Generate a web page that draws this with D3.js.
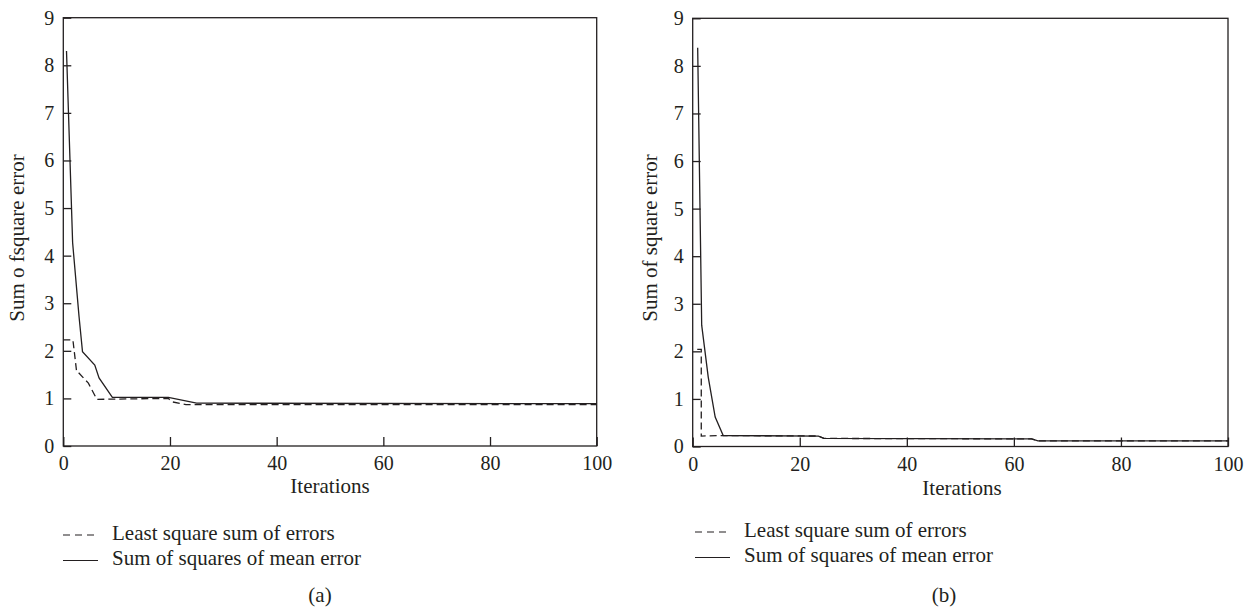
<!DOCTYPE html>
<html><head><meta charset="utf-8">
<script src="https://cdn.jsdelivr.net/npm/d3@7"></script>
<style>
body{margin:0;background:#fff}
text{font-family:"Liberation Serif","Times New Roman",serif;fill:#231f20}
</style>
</head><body>
<svg id="c" width="1257" height="611"></svg>
<script>
// ---- data ----
const xTickValues=[0,20,40,60,80,100];
const yTickValues=[0,1,2,3,4,5,6,7,8,9];
const seriesNames=["Least square sum of errors","Sum of squares of mean error"];
const panelLabels=["(a)","(b)"];
const yTitles=["Sum o fsquare error","Sum of square error"];
const xTitle="Iterations";

// panel (a)
const iterDashedA=[0,1.8,2.5,2.8,4.7,6.3,19.7,20.3,23,100];
const dashedA=[2.23,2.23,1.56,1.55,1.32,0.98,1.0,0.93,0.87,0.87];
const iterSolidA=[0.6,1.75,2.95,3.6,5.9,6.7,9.2,19.7,25,100];
const solidA=[8.3,4.27,2.72,1.98,1.70,1.43,1.02,1.02,0.90,0.89];

// panel (b)
const iterDashedB=[0.85,1.6,1.6,5.7,23.5,24.5,63.3,64.5,100];
const dashedB=[2.04,2.04,0.22,0.23,0.22,0.17,0.16,0.12,0.12];
const iterSolidB=[0.93,1.68,2.9,4.2,5.7,23.5,24.5,63.3,64.5,100];
const solidB=[8.38,2.55,1.46,0.62,0.23,0.22,0.17,0.16,0.12,0.12];

// ---- drawing ----
const svg=d3.select("#c");
const ink="#231f20";
const panels=[
  {x0:63.3,x1:596.7,y0:446,y1:17.7,ytx:19,itx:330,ity:488,legX:63,legY:535,labX:320,
   dashed:[iterDashedA,dashedA],solid:[iterSolidA,solidA],yTitle:yTitles[0],lab:panelLabels[0]},
  {x0:692.7,x1:1228,y0:446.5,y1:18.3,ytx:652,itx:962,ity:490,legX:695,legY:532,labX:944,
   dashed:[iterDashedB,dashedB],solid:[iterSolidB,solidB],yTitle:yTitles[1],lab:panelLabels[1]}
];

panels.forEach(p=>{
  const x=d3.scaleLinear().domain([0,100]).range([p.x0,p.x1]);
  const y=d3.scaleLinear().domain([0,9]).range([p.y0,p.y1]);
  const g=svg.append("g");

  // frame
  g.append("rect").attr("x",p.x0).attr("y",p.y1).attr("width",p.x1-p.x0).attr("height",p.y0-p.y1)
    .attr("fill","none").attr("stroke",ink).attr("stroke-width",1.3);

  // axes
  const xa=g.append("g").attr("transform",`translate(0,${p.y0})`)
    .call(d3.axisBottom(x).tickValues(xTickValues).tickSize(-9).tickPadding(10).tickFormat(d3.format("d")));
  const ya=g.append("g").attr("transform",`translate(${p.x0},0)`)
    .call(d3.axisLeft(y).tickValues(yTickValues).tickSize(-8).tickPadding(9).tickFormat(d3.format("d")));
  [xa,ya].forEach(a=>{
    a.select(".domain").remove();
    a.selectAll("line").attr("stroke",ink).attr("stroke-width",1.3);
    a.selectAll("text").attr("font-size",20).attr("fill",ink).style("font-family","'Liberation Serif',serif");
  });

  // lines
  const line=d3.line().x(d=>x(d[0])).y(d=>y(d[1]));
  const dd=p.dashed[0].map((v,i)=>[v,p.dashed[1][i]]);
  const sd=p.solid[0].map((v,i)=>[v,p.solid[1][i]]);
  g.append("path").datum(dd).attr("d",line).attr("fill","none").attr("stroke",ink)
    .attr("stroke-width",1.3).attr("stroke-dasharray","7,4");
  g.append("path").datum(sd).attr("d",line).attr("fill","none").attr("stroke",ink)
    .attr("stroke-width",1.3);

  // titles
  g.append("text").attr("transform",`translate(${p.ytx},238) rotate(-90)`)
    .attr("text-anchor","middle").attr("dominant-baseline","middle").attr("font-size",21).text(p.yTitle);
  g.append("text").attr("x",p.itx).attr("y",p.ity).attr("text-anchor","middle")
    .attr("dominant-baseline","middle").attr("font-size",21).text(xTitle);

  // legend
  seriesNames.forEach((s,i)=>{
    const ly=p.legY+i*25.5;
    g.append("line").attr("x1",p.legX).attr("x2",p.legX+35).attr("y1",ly).attr("y2",ly)
      .attr("stroke",ink).attr("stroke-width",1.2).attr("stroke-dasharray",i===0?"7,5":null);
    g.append("text").attr("x",p.legX+49).attr("y",ly).attr("dominant-baseline","middle")
      .attr("font-size",21).text(s);
  });
  g.append("text").attr("x",p.labX).attr("y",597).attr("text-anchor","middle")
    .attr("dominant-baseline","middle").attr("font-size",21).text(p.lab);
});
</script>
</body></html>
